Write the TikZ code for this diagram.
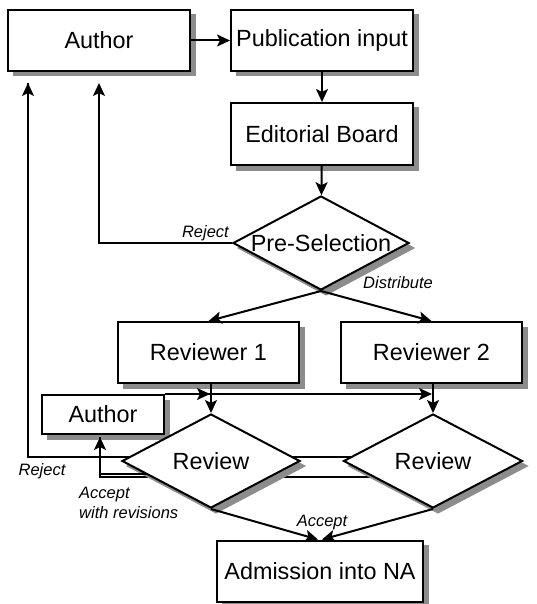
\documentclass[tikz,border=0pt]{standalone}
\usepackage{fontspec}
\setmainfont{Liberation Sans}
\usetikzlibrary{shapes.geometric,arrows.meta,calc}
\definecolor{shadowgray}{rgb}{0.55,0.55,0.55}

\begin{document}
\begin{tikzpicture}[x=1pt,y=1pt,
  stepbox/.style={draw,line width=2pt,fill=white,inner sep=0pt,
    font=\fontsize{23.4}{28}\selectfont},
  decision/.style={diamond,draw,line width=2pt,fill=white,inner sep=0pt},
  shadowfill/.style={fill=shadowgray,draw=shadowgray,line width=1pt},
  flow/.style={line width=2pt,-{Stealth[length=13pt,width=12pt,inset=3pt]}},
  lbl/.style={font=\fontsize{16.5}{20}\selectfont\itshape,inner sep=0pt}]

\useasboundingbox (0,0) rectangle (536,-604);

% routing points of the return paths
\coordinate (rejA) at (99,-83);
\coordinate (rejB) at (28,-83);
\coordinate (revA) at (100,-437);
\coordinate (rejStart) at (430,-457);
\coordinate (revStart) at (430,-477);

% return paths from the second review, partly hidden behind the first one
\draw[flow] (rejStart) -| (rejB);
\draw[flow] (revStart) -| (revA);

% grey drop shadows, offset 5pt right and down from each shape
\filldraw[shadowfill] (13,-15) rectangle (195,-76);
\filldraw[shadowfill] (236,-15) rectangle (418,-76);
\filldraw[shadowfill] (236,-108) rectangle (418,-170);
\filldraw[shadowfill] (123,-327) rectangle (304,-388);
\filldraw[shadowfill] (346,-327) rectangle (527,-388);
\filldraw[shadowfill] (47,-400) rectangle (169,-439);
\filldraw[shadowfill] (222,-545.5) rectangle (428,-606.5);
\filldraw[shadowfill] (238,-248) -- (326,-201) -- (414,-248) -- (326,-295) -- cycle;
\filldraw[shadowfill] (127,-466) -- (216,-419) -- (305,-466) -- (216,-513) -- cycle;
\filldraw[shadowfill] (348.5,-466) -- (438,-419) -- (527.5,-466) -- (438,-513) -- cycle;

% boxes and decisions
\node[stepbox,minimum width=182pt,minimum height=61pt] (author) at (99,-40.5) {Author};
\node[stepbox,minimum width=182pt,minimum height=61pt] (pub) at (322,-40.5) {Publication input};
\node[stepbox,minimum width=182pt,minimum height=62pt] (board) at (322,-134) {Editorial Board};
\node[decision,minimum width=176pt,minimum height=94pt] (pre) at (321,-243) {};
\node at (pre) [font=\fontsize{23.4}{28}\selectfont] (pretext) {Pre-Selection};
\node[stepbox,minimum width=181pt,minimum height=61pt] (rev1) at (208.5,-352.5) {Reviewer 1};
\node[stepbox,minimum width=181pt,minimum height=61pt] (rev2) at (431.5,-352.5) {Reviewer 2};
\node[stepbox,minimum width=122pt,minimum height=39pt] (author2) at (103,-414.5) {Author};
\node[decision,minimum width=178pt,minimum height=94pt] (review1) at (211,-461) {};
\node at (review1) [font=\fontsize{23.4}{28}\selectfont] (review1text) {Review};
\node[decision,minimum width=179pt,minimum height=94pt] (review2) at (433,-461) {};
\node at (review2) [font=\fontsize{23.4}{28}\selectfont] (review2text) {Review};
\node[stepbox,minimum width=206pt,minimum height=61pt] (adm) at (320,-571) {Admission into NA};

% main flow
\draw[flow] (author) -- (pub);
\draw[flow] (pub) -- (board);
\draw[flow] (board) -- (pre);
\draw[flow] (pre.west) -| (rejA);
\draw[flow] (pre.south) -- (rev1.north);
\draw[flow] (pre.south) -- (rev2.north);
\draw[flow] (rev1.south -| review1.north) -- (review1.north);
\draw[flow] (rev2.south -| review2.north) -- (review2.north);
\draw[flow,shorten >=1pt] (author2.north east) -- (author2.north east -| review1.north);
\draw[flow,shorten >=1pt] (author2.north east) -- (author2.north east -| review2.north);
\draw[line width=2pt] ($(review1.west |- rejStart)+(6,0)$) -| (rejB);
\draw[line width=2pt] ($(review1.south west)!0.45!(review1.west)$) -| (revA);
\draw[flow] (review1.south) -- ([xshift=-2pt]adm.north);
\draw[flow] (review2.south) -- ([xshift=2pt]adm.north);

% edge labels
\node[lbl,anchor=east] (l1) at (229,-233) {Reject};
\node[lbl,anchor=west] (l2) at (363,-283) {Distribute};
\node[lbl] (l3) at (42,-471) {Reject};
\node[lbl,anchor=west,align=left] (l4) at (79,-503) {Accept\\with revisions};
\node[lbl] (l5) at (322,-523) {Accept};
\end{tikzpicture}
\end{document}
